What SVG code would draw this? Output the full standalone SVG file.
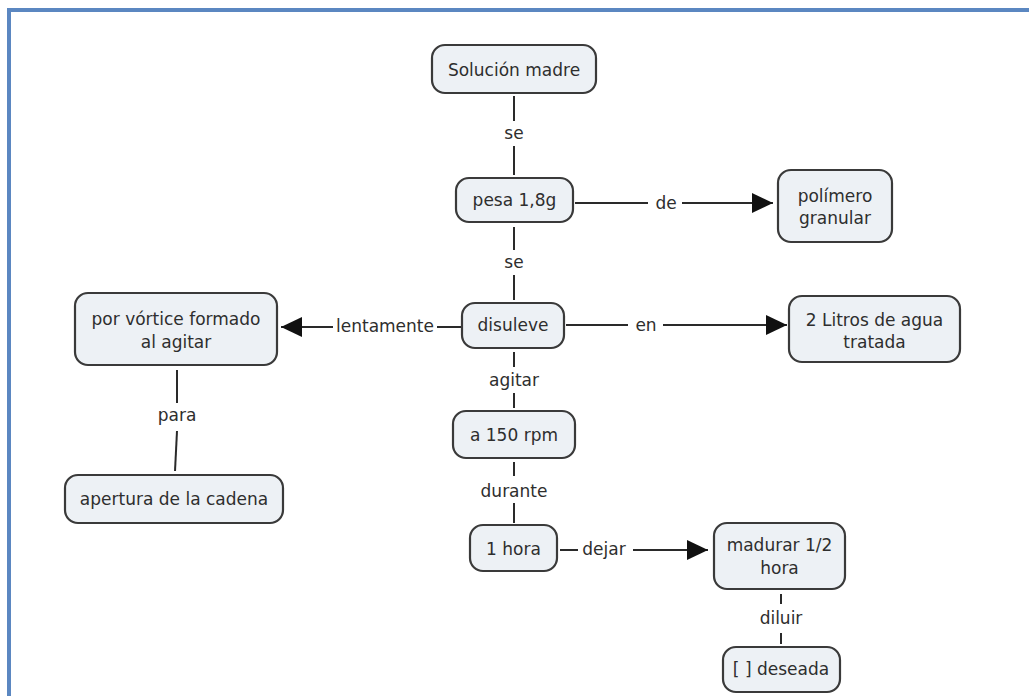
<svg xmlns="http://www.w3.org/2000/svg" width="1029" height="696" viewBox="0 0 1029 696">
<style>
.box{fill:#edf1f5;stroke:#3a3a3a;stroke-width:2.2}
.t{font-family:"DejaVu Sans",Verdana,sans-serif;font-size:17px;fill:#2e2e2e;text-anchor:middle;dominant-baseline:central}
.ln{stroke:#2a2a2a;stroke-width:2;fill:none}
</style>
<defs>
<marker id="arr" markerUnits="userSpaceOnUse" markerWidth="24" markerHeight="22" refX="21" refY="10" orient="auto">
<path d="M0,0 L21,10 L0,20 Z" fill="#111"/>
</marker>
</defs>
<rect width="1029" height="696" fill="#fff"/>
<path d="M9,696 V10 H1029" fill="none" stroke="#5b87c1" stroke-width="4"/>
<g id="connectors">
<line class="ln" x1="514" y1="96" x2="514" y2="121"/>
<text class="t" x="514" y="133">se</text>
<line class="ln" x1="514" y1="146" x2="514" y2="175"/>
<line class="ln" x1="575" y1="203" x2="648" y2="203"/>
<text class="t" x="666" y="203">de</text>
<line class="ln" x1="682" y1="203" x2="773" y2="203" marker-end="url(#arr)"/>
<line class="ln" x1="514" y1="227" x2="514" y2="250"/>
<text class="t" x="514" y="262">se</text>
<line class="ln" x1="514" y1="275" x2="514" y2="300"/>
<line class="ln" x1="462" y1="327" x2="437" y2="327"/>
<text class="t" x="385" y="326">lentamente</text>
<line class="ln" x1="333" y1="327" x2="281" y2="327" marker-end="url(#arr)"/>
<line class="ln" x1="566" y1="325" x2="628" y2="325"/>
<text class="t" x="646" y="325">en</text>
<line class="ln" x1="663" y1="325" x2="787" y2="325" marker-end="url(#arr)"/>
<line class="ln" x1="514" y1="352" x2="514" y2="367"/>
<text class="t" x="514" y="380">agitar</text>
<line class="ln" x1="514" y1="393" x2="514" y2="408"/>
<line class="ln" x1="514" y1="462" x2="514" y2="476"/>
<text class="t" x="514" y="491">durante</text>
<line class="ln" x1="514" y1="503" x2="514" y2="523"/>
<line class="ln" x1="560" y1="550" x2="578" y2="550"/>
<text class="t" x="604" y="549">dejar</text>
<line class="ln" x1="633" y1="550" x2="708" y2="550" marker-end="url(#arr)"/>
<line class="ln" x1="781" y1="594" x2="781" y2="604"/>
<text class="t" x="781" y="618">diluir</text>
<line class="ln" x1="781" y1="633" x2="781" y2="644"/>
<line class="ln" x1="177" y1="370" x2="177" y2="403"/>
<text class="t" x="177" y="415">para</text>
<line class="ln" x1="177" y1="431" x2="175" y2="471"/>
</g>
<g id="n1"><rect class="box" x="432" y="45" width="164" height="48" rx="13"/><text class="t" x="514" y="70">Solución madre</text></g>
<g id="n2"><rect class="box" x="456" y="178" width="117" height="44" rx="13"/><text class="t" x="514.5" y="200">pesa 1,8g</text></g>
<g id="n3"><rect class="box" x="778" y="170" width="114" height="72" rx="13"/><text class="t" x="835" y="196">polímero</text><text class="t" x="835" y="218">granular</text></g>
<g id="n4"><rect class="box" x="462" y="303" width="102" height="45" rx="13"/><text class="t" x="513" y="325">disuleve</text></g>
<g id="n5"><rect class="box" x="75" y="293" width="202" height="72" rx="13"/><text class="t" x="176" y="319">por vórtice formado</text><text class="t" x="176" y="342">al agitar</text></g>
<g id="n6"><rect class="box" x="789" y="296" width="171" height="66" rx="13"/><text class="t" x="874.5" y="320">2 Litros de agua</text><text class="t" x="874.5" y="342">tratada</text></g>
<g id="n7"><rect class="box" x="453" y="411" width="122" height="47" rx="13"/><text class="t" x="514" y="435">a 150 rpm</text></g>
<g id="n8"><rect class="box" x="470" y="525" width="87" height="46" rx="13"/><text class="t" x="513.5" y="549">1 hora</text></g>
<g id="n9"><rect class="box" x="714" y="523" width="131" height="66" rx="13"/><text class="t" x="779.5" y="545">madurar 1/2</text><text class="t" x="779.5" y="568">hora</text></g>
<g id="n10"><rect class="box" x="723" y="647" width="117" height="45" rx="13"/><text class="t" x="781" y="669">[ ] deseada</text></g>
<g id="n11"><rect class="box" x="65" y="475" width="218" height="48" rx="13"/><text class="t" x="174" y="499">apertura de la cadena</text></g>
</svg>
